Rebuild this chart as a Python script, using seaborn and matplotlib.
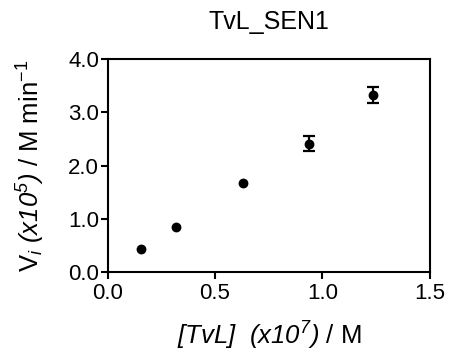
import matplotlib
matplotlib.use("Agg")
import matplotlib.pyplot as plt
import seaborn as sns
import pandas as pd

# Initial rate vs enzyme concentration
conc = [0.157, 0.317, 0.629, 0.935, 1.236]      # [TvL] (x10^7) M
rate = [0.44, 0.85, 1.67, 2.41, 3.32]           # Vi (x10^5) M/min
rate_err = [0.0, 0.0, 0.0, 0.14, 0.15]

x_ticks = [0.0, 0.5, 1.0, 1.5]
y_ticks = [0.0, 1.0, 2.0, 3.0, 4.0]

sns.set_style("ticks")
plt.rcParams["font.family"] = ["Liberation Sans", "DejaVu Sans"]
plt.rcParams["text.color"] = "black"
plt.rcParams["axes.labelcolor"] = "black"
plt.rcParams["mathtext.fontset"] = "custom"
plt.rcParams["mathtext.rm"] = "Liberation Sans:italic"
plt.rcParams["mathtext.it"] = "Liberation Sans:italic"
plt.rcParams["mathtext.sf"] = "Liberation Sans"
plt.rcParams["mathtext.bf"] = "Liberation Sans:bold"

df = pd.DataFrame({"conc": conc, "rate": rate, "err": rate_err})
with_err = df[df["err"] > 0]

fig = plt.figure(figsize=(4.51, 3.58), dpi=100)
ax = fig.add_axes([0.2384, 0.240, 0.7150, 0.595])

ax.errorbar(with_err["conc"], with_err["rate"], yerr=with_err["err"], fmt="none",
            ecolor="black", elinewidth=1.6, capsize=4.5, capthick=1.6, zorder=2)
sns.scatterplot(data=df, x="conc", y="rate", ax=ax, color="black",
                s=50, edgecolor="black", linewidth=0, zorder=3)

ax.set_xlim(0, 1.5)
ax.set_ylim(0, 4.0)
ax.set_xticks(x_ticks)
ax.set_yticks(y_ticks)
ax.set_xticklabels([f"{v:.1f}" for v in x_ticks])
ax.set_yticklabels([f"{v:.1f}" for v in y_ticks])
ax.tick_params(axis="both", direction="out", length=5, width=1.5,
               labelsize=16, colors="black", pad=1)
ax.tick_params(axis="x", pad=3)

for side in ["left", "bottom", "top", "right"]:
    ax.spines[side].set_visible(True)
    ax.spines[side].set_linewidth(1.5)
    ax.spines[side].set_color("black")

ax.set_xlabel(r"$[TvL]\ \ (x10^7)$ / M", fontsize=18.5, labelpad=11)
ax.set_ylabel(r"$\mathsf{V}_i\ (x10^5)$ / M min$^{\mathsf{-1}}$", fontsize=18.5, labelpad=15)
ax.set_title("TvL_SEN1", fontsize=18, pad=22, color="black")

fig.savefig("out.png", dpi=100)
